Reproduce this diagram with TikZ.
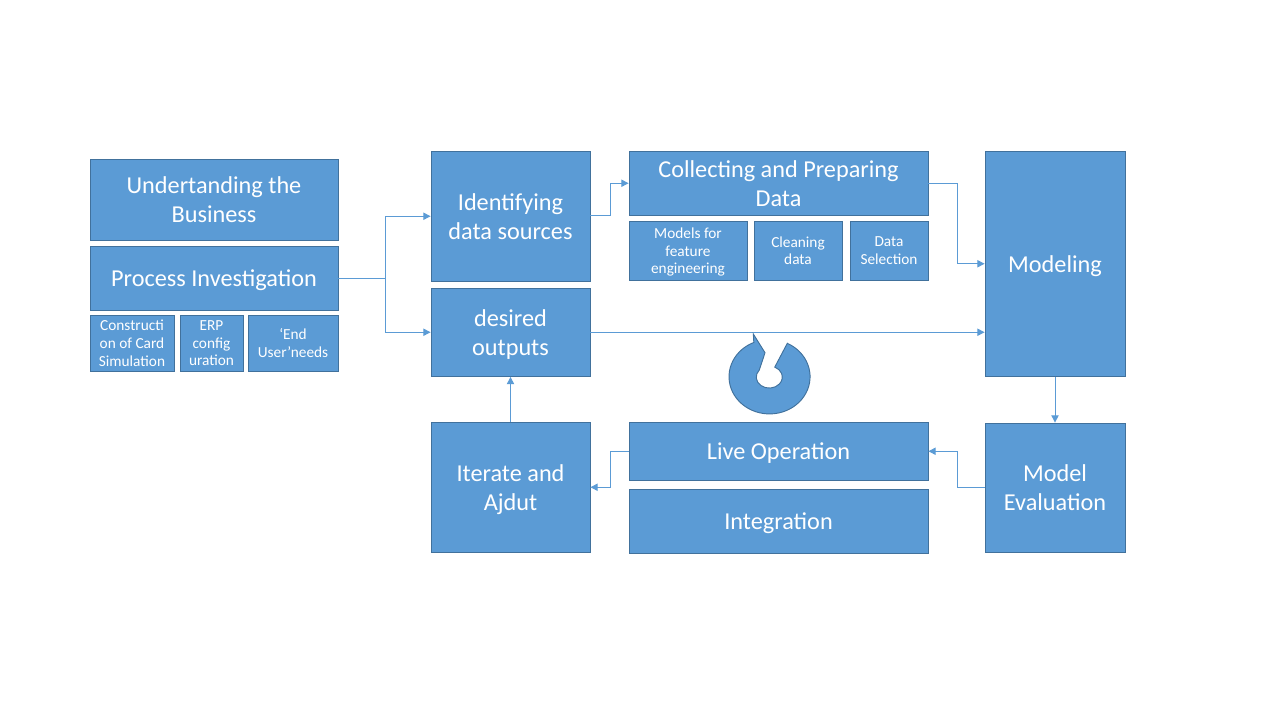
\documentclass[tikz,border=0pt]{standalone}
\usepackage{fontspec}
\setmainfont{Carlito}
\usepackage{xcolor}
\usepackage{tikz}
\usetikzlibrary{positioning}
\usetikzlibrary{calc}
\usetikzlibrary{arrows, arrows.meta}

\definecolor{boxfill}{HTML}{5B9BD5}
\definecolor{boxline}{HTML}{41719C}

\tikzset{
  box/.style={draw=boxline, fill=boxfill, text=white, align=center, inner sep=0pt, line width=0.6pt, xshift=-0.375pt, yshift=0.19pt},
  boxsize/.style 2 args={minimum width=#1*0.75pt-0.75pt, minimum height=#2*0.75pt-0.38pt},
  bigbox/.style={box, font=\fontsize{18.2}{21.8}\selectfont, text depth=-1pt},
  smallbox/.style={box, font=\fontsize{11.5}{13.2}\selectfont, text depth=0pt},
  link/.style={draw=boxfill, line width=0.75pt, -{Triangle[length=5.5pt, width=5.5pt]}},
}

\begin{document}
\begin{tikzpicture}[x=0.75pt, y=-0.75pt]
  \useasboundingbox (0,0) rectangle (1280,720);
  % left column
  \node[bigbox, boxsize={249}{82}] (business) at (214.5,200) {Undertanding the\\Business};
  \node[bigbox, boxsize={249}{65}] (process) at (214.5,278.5) {Process Investigation};
  \node[smallbox, boxsize={85}{57}] (card) at (132.5,343.5) {Constructi\\on of Card\\Simulation};
  \node[smallbox, boxsize={64}{57}] (erp) at (212,343.5) {ERP\\config\\uration};
  \node[smallbox, boxsize={91}{57}] (user) at (293.5,343.5) {‘End\\User’needs};
  % middle column
  \node[bigbox, boxsize={160}{131}] (sources) at (511,216.5) {Identifying\\data sources};
  \node[bigbox, boxsize={160}{89}] (outputs) at (511,332.5) {desired\\outputs};
  \node[bigbox, boxsize={160}{131}] (iterate) at (511,487.5) {Iterate and\\Ajdut};
  % data boxes
  \node[bigbox, boxsize={300}{65}] (collect) at (779,183.5) {Collecting and Preparing\\Data};
  \node[smallbox, boxsize={119}{60}] (feature) at (688.5,251) {Models for\\feature\\engineering};
  \node[smallbox, boxsize={89}{60}] (cleaning) at (798.5,251) {Cleaning\\data};
  \node[smallbox, boxsize={79}{60}] (selection) at (889.5,251) {Data\\Selection};
  \node[bigbox, boxsize={300}{59}] (live) at (779,451.5) {Live Operation};
  \node[bigbox, boxsize={300}{65}] (integration) at (779,521.5) {Integration};
  % right column
  \node[bigbox, boxsize={141}{226}] (modeling) at (1055.5,264) {Modeling};
  \node[bigbox, boxsize={141}{130}] (evaluation) at (1055.5,488) {Model\\Evaluation};
  % elbows
  \coordinate (split) at (385,279);
  \coordinate (elbowa) at (610,216);
  \coordinate (elbowb) at (957,183);
  \coordinate (elbowc) at (957,488);
  \coordinate (elbowd) at (610,451);
  % connectors
  \draw[link] (process.east) -- (process.east -| split) |- (sources.west);
  \draw[link] (process.east) -- (process.east -| split) |- (outputs.west);
  \draw[link] (sources.east |- elbowa) -- (elbowa) |- (collect.west);
  \draw[link] (collect.east) -- (collect.east -| elbowb) |- (modeling.west);
  \draw[link] (outputs.east) -- (outputs.east -| modeling.west);
  \draw[link] (modeling.south) -- (evaluation.north);
  \draw[link] (evaluation.west) -- (evaluation.west -| elbowc) |- (live.east);
  \draw[link] (live.west) -- (live.west -| elbowd) |- (iterate.east);
  \draw[link] (iterate.north) -- (outputs.south);
  % circular arrow
  \draw[fill=boxfill, draw=boxline, line width=0.7pt] (787.3,343.3)
    arc[start angle=64, end angle=-247.2, x radius=30.4pt, y radius=27.9pt]
    -- (753.3,334) -- (765,352.7) -- (759.3,370)
    arc[start angle=140, end angle=425, x radius=9.75pt, y radius=8.25pt]
    -- cycle;
\end{tikzpicture}
\end{document}
